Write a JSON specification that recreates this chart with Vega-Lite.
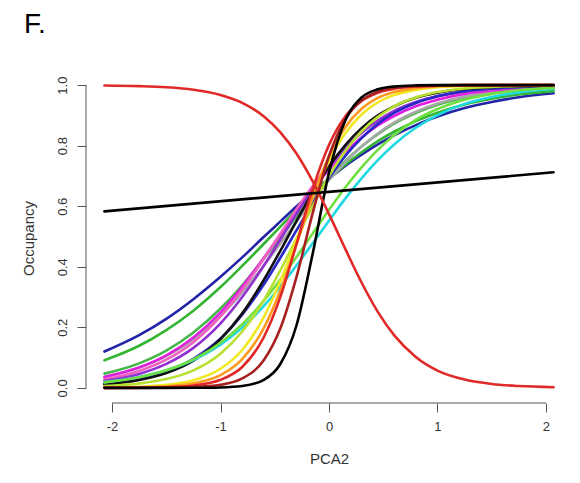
{
  "$schema": "https://vega.github.io/schema/vega-lite/v6.json",
  "width": 486,
  "height": 330,
  "autosize": {"type": "none"},
  "padding": {"left": 86, "top": 73, "right": 8, "bottom": 80},
  "background": "white",
  "config": {"view": {"stroke": null}, "font": "Liberation Sans"},
  "title": {"text": "F.", "anchor": "start", "frame": "group", "dx": -62, "offset": 34, "fontSize": 28, "fontWeight": "normal", "color": "#000000", "font": "Liberation Sans"},
  "data": {"values": [
    {"s":"s01","x":-2.07,"y":0.120},{"s":"s01","x":-1.75,"y":0.174},{"s":"s01","x":-1.5,"y":0.228},{"s":"s01","x":-1.25,"y":0.293},{"s":"s01","x":-1,"y":0.367},{"s":"s01","x":-0.8,"y":0.431},{"s":"s01","x":-0.6,"y":0.499},{"s":"s01","x":-0.45,"y":0.549},{"s":"s01","x":-0.3,"y":0.599},{"s":"s01","x":-0.15,"y":0.646},{"s":"s01","x":0,"y":0.691},{"s":"s01","x":0.15,"y":0.733},{"s":"s01","x":0.3,"y":0.770},{"s":"s01","x":0.45,"y":0.804},{"s":"s01","x":0.6,"y":0.834},{"s":"s01","x":0.8,"y":0.868},{"s":"s01","x":1,"y":0.896},{"s":"s01","x":1.25,"y":0.924},{"s":"s01","x":1.5,"y":0.944},{"s":"s01","x":1.75,"y":0.960},{"s":"s01","x":2.07,"y":0.973},
    {"s":"s02","x":-2.07,"y":0.091},{"s":"s02","x":-1.75,"y":0.139},{"s":"s02","x":-1.5,"y":0.191},{"s":"s02","x":-1.25,"y":0.255},{"s":"s02","x":-1,"y":0.333},{"s":"s02","x":-0.8,"y":0.403},{"s":"s02","x":-0.6,"y":0.476},{"s":"s02","x":-0.45,"y":0.532},{"s":"s02","x":-0.3,"y":0.588},{"s":"s02","x":-0.15,"y":0.641},{"s":"s02","x":0,"y":0.691},{"s":"s02","x":0.15,"y":0.737},{"s":"s02","x":0.3,"y":0.778},{"s":"s02","x":0.45,"y":0.815},{"s":"s02","x":0.6,"y":0.846},{"s":"s02","x":0.8,"y":0.881},{"s":"s02","x":1,"y":0.909},{"s":"s02","x":1.25,"y":0.936},{"s":"s02","x":1.5,"y":0.955},{"s":"s02","x":1.75,"y":0.969},{"s":"s02","x":2.07,"y":0.980},
    {"s":"s03","x":-2.07,"y":0.047},{"s":"s03","x":-1.75,"y":0.081},{"s":"s03","x":-1.5,"y":0.123},{"s":"s03","x":-1.25,"y":0.183},{"s":"s03","x":-1,"y":0.262},{"s":"s03","x":-0.8,"y":0.339},{"s":"s03","x":-0.6,"y":0.427},{"s":"s03","x":-0.45,"y":0.496},{"s":"s03","x":-0.3,"y":0.565},{"s":"s03","x":-0.15,"y":0.631},{"s":"s03","x":0,"y":0.693},{"s":"s03","x":0.15,"y":0.749},{"s":"s03","x":0.3,"y":0.797},{"s":"s03","x":0.45,"y":0.838},{"s":"s03","x":0.6,"y":0.873},{"s":"s03","x":0.8,"y":0.908},{"s":"s03","x":1,"y":0.935},{"s":"s03","x":1.25,"y":0.958},{"s":"s03","x":1.5,"y":0.973},{"s":"s03","x":1.75,"y":0.983},{"s":"s03","x":2.07,"y":0.990},
    {"s":"s04","x":-2.07,"y":0.037},{"s":"s04","x":-1.75,"y":0.067},{"s":"s04","x":-1.5,"y":0.105},{"s":"s04","x":-1.25,"y":0.160},{"s":"s04","x":-1,"y":0.237},{"s":"s04","x":-0.8,"y":0.315},{"s":"s04","x":-0.6,"y":0.404},{"s":"s04","x":-0.45,"y":0.476},{"s":"s04","x":-0.3,"y":0.549},{"s":"s04","x":-0.15,"y":0.620},{"s":"s04","x":0,"y":0.686},{"s":"s04","x":0.15,"y":0.745},{"s":"s04","x":0.3,"y":0.797},{"s":"s04","x":0.45,"y":0.840},{"s":"s04","x":0.6,"y":0.876},{"s":"s04","x":0.8,"y":0.912},{"s":"s04","x":1,"y":0.939},{"s":"s04","x":1.25,"y":0.962},{"s":"s04","x":1.5,"y":0.976},{"s":"s04","x":1.75,"y":0.985},{"s":"s04","x":2.07,"y":0.992},
    {"s":"s05","x":-2.07,"y":0.036},{"s":"s05","x":-1.75,"y":0.067},{"s":"s05","x":-1.5,"y":0.107},{"s":"s05","x":-1.25,"y":0.166},{"s":"s05","x":-1,"y":0.249},{"s":"s05","x":-0.8,"y":0.334},{"s":"s05","x":-0.6,"y":0.430},{"s":"s05","x":-0.45,"y":0.506},{"s":"s05","x":-0.3,"y":0.583},{"s":"s05","x":-0.15,"y":0.655},{"s":"s05","x":0,"y":0.721},{"s":"s05","x":0.15,"y":0.778},{"s":"s05","x":0.3,"y":0.827},{"s":"s05","x":0.45,"y":0.867},{"s":"s05","x":0.6,"y":0.898},{"s":"s05","x":0.8,"y":0.930},{"s":"s05","x":1,"y":0.952},{"s":"s05","x":1.25,"y":0.971},{"s":"s05","x":1.5,"y":0.982},{"s":"s05","x":1.75,"y":0.989},{"s":"s05","x":2.07,"y":0.994},
    {"s":"s06","x":-2.07,"y":0.028},{"s":"s06","x":-1.75,"y":0.056},{"s":"s06","x":-1.5,"y":0.093},{"s":"s06","x":-1.25,"y":0.151},{"s":"s06","x":-1,"y":0.236},{"s":"s06","x":-0.8,"y":0.324},{"s":"s06","x":-0.6,"y":0.427},{"s":"s06","x":-0.45,"y":0.508},{"s":"s06","x":-0.3,"y":0.590},{"s":"s06","x":-0.15,"y":0.667},{"s":"s06","x":0,"y":0.736},{"s":"s06","x":0.15,"y":0.795},{"s":"s06","x":0.3,"y":0.843},{"s":"s06","x":0.45,"y":0.882},{"s":"s06","x":0.6,"y":0.912},{"s":"s06","x":0.8,"y":0.942},{"s":"s06","x":1,"y":0.962},{"s":"s06","x":1.25,"y":0.978},{"s":"s06","x":1.5,"y":0.987},{"s":"s06","x":1.75,"y":0.992},{"s":"s06","x":2.07,"y":0.996},
    {"s":"s07","x":-2.07,"y":0.0225},{"s":"s07","x":-1.75,"y":0.046},{"s":"s07","x":-1.5,"y":0.079},{"s":"s07","x":-1.25,"y":0.132},{"s":"s07","x":-1,"y":0.213},{"s":"s07","x":-0.8,"y":0.300},{"s":"s07","x":-0.6,"y":0.404},{"s":"s07","x":-0.45,"y":0.489},{"s":"s07","x":-0.3,"y":0.575},{"s":"s07","x":-0.15,"y":0.656},{"s":"s07","x":0,"y":0.729},{"s":"s07","x":0.15,"y":0.792},{"s":"s07","x":0.3,"y":0.843},{"s":"s07","x":0.45,"y":0.883},{"s":"s07","x":0.6,"y":0.915},{"s":"s07","x":0.8,"y":0.944},{"s":"s07","x":1,"y":0.964},{"s":"s07","x":1.25,"y":0.979},{"s":"s07","x":1.5,"y":0.988},{"s":"s07","x":1.75,"y":0.993},{"s":"s07","x":2.07,"y":0.997},
    {"s":"s08","x":-2.07,"y":0.014},{"s":"s08","x":-1.75,"y":0.030},{"s":"s08","x":-1.5,"y":0.054},{"s":"s08","x":-1.25,"y":0.096},{"s":"s08","x":-1,"y":0.163},{"s":"s08","x":-0.8,"y":0.242},{"s":"s08","x":-0.6,"y":0.342},{"s":"s08","x":-0.45,"y":0.429},{"s":"s08","x":-0.3,"y":0.520},{"s":"s08","x":-0.15,"y":0.610},{"s":"s08","x":0,"y":0.693},{"s":"s08","x":0.15,"y":0.766},{"s":"s08","x":0.3,"y":0.825},{"s":"s08","x":0.45,"y":0.872},{"s":"s08","x":0.6,"y":0.908},{"s":"s08","x":0.8,"y":0.941},{"s":"s08","x":1,"y":0.963},{"s":"s08","x":1.25,"y":0.980},{"s":"s08","x":1.5,"y":0.989},{"s":"s08","x":1.75,"y":0.994},{"s":"s08","x":2.07,"y":0.997},
    {"s":"s09","x":-2.07,"y":0.011},{"s":"s09","x":-1.75,"y":0.026},{"s":"s09","x":-1.5,"y":0.049},{"s":"s09","x":-1.25,"y":0.090},{"s":"s09","x":-1,"y":0.161},{"s":"s09","x":-0.8,"y":0.246},{"s":"s09","x":-0.6,"y":0.357},{"s":"s09","x":-0.45,"y":0.452},{"s":"s09","x":-0.3,"y":0.551},{"s":"s09","x":-0.15,"y":0.646},{"s":"s09","x":0,"y":0.731},{"s":"s09","x":0.15,"y":0.802},{"s":"s09","x":0.3,"y":0.858},{"s":"s09","x":0.45,"y":0.900},{"s":"s09","x":0.6,"y":0.930},{"s":"s09","x":0.8,"y":0.958},{"s":"s09","x":1,"y":0.975},{"s":"s09","x":1.25,"y":0.987},{"s":"s09","x":1.5,"y":0.993},{"s":"s09","x":1.75,"y":0.996},{"s":"s09","x":2.07,"y":0.998},
    {"s":"s10","x":-2.07,"y":0.019},{"s":"s10","x":-1.75,"y":0.036},{"s":"s10","x":-1.5,"y":0.058},{"s":"s10","x":-1.25,"y":0.092},{"s":"s10","x":-1,"y":0.143},{"s":"s10","x":-0.8,"y":0.199},{"s":"s10","x":-0.6,"y":0.271},{"s":"s10","x":-0.45,"y":0.334},{"s":"s10","x":-0.3,"y":0.404},{"s":"s10","x":-0.15,"y":0.478},{"s":"s10","x":0,"y":0.552},{"s":"s10","x":0.15,"y":0.625},{"s":"s10","x":0.3,"y":0.692},{"s":"s10","x":0.45,"y":0.752},{"s":"s10","x":0.6,"y":0.804},{"s":"s10","x":0.8,"y":0.859},{"s":"s10","x":1,"y":0.901},{"s":"s10","x":1.25,"y":0.938},{"s":"s10","x":1.5,"y":0.961},{"s":"s10","x":1.75,"y":0.976},{"s":"s10","x":2.07,"y":0.987},
    {"s":"s11","x":-2.07,"y":0.018},{"s":"s11","x":-1.75,"y":0.035},{"s":"s11","x":-1.5,"y":0.058},{"s":"s11","x":-1.25,"y":0.094},{"s":"s11","x":-1,"y":0.149},{"s":"s11","x":-0.8,"y":0.210},{"s":"s11","x":-0.6,"y":0.288},{"s":"s11","x":-0.45,"y":0.357},{"s":"s11","x":-0.3,"y":0.432},{"s":"s11","x":-0.15,"y":0.510},{"s":"s11","x":0,"y":0.588},{"s":"s11","x":0.15,"y":0.662},{"s":"s11","x":0.3,"y":0.728},{"s":"s11","x":0.45,"y":0.786},{"s":"s11","x":0.6,"y":0.834},{"s":"s11","x":0.8,"y":0.885},{"s":"s11","x":1,"y":0.921},{"s":"s11","x":1.25,"y":0.952},{"s":"s11","x":1.5,"y":0.971},{"s":"s11","x":1.75,"y":0.983},{"s":"s11","x":2.07,"y":0.991},
    {"s":"s12","x":-2.07,"y":0.0057},{"s":"s12","x":-1.75,"y":0.0143},{"s":"s12","x":-1.5,"y":0.029},{"s":"s12","x":-1.25,"y":0.058},{"s":"s12","x":-1,"y":0.113},{"s":"s12","x":-0.8,"y":0.186},{"s":"s12","x":-0.6,"y":0.290},{"s":"s12","x":-0.45,"y":0.387},{"s":"s12","x":-0.3,"y":0.493},{"s":"s12","x":-0.15,"y":0.601},{"s":"s12","x":0,"y":0.699},{"s":"s12","x":0.15,"y":0.782},{"s":"s12","x":0.3,"y":0.847},{"s":"s12","x":0.45,"y":0.895},{"s":"s12","x":0.6,"y":0.930},{"s":"s12","x":0.8,"y":0.959},{"s":"s12","x":1,"y":0.977},{"s":"s12","x":1.25,"y":0.989},{"s":"s12","x":1.5,"y":0.994},{"s":"s12","x":1.75,"y":0.997},{"s":"s12","x":2.07,"y":0.999},
    {"s":"s13","x":-2.07,"y":0.0011},{"s":"s13","x":-1.75,"y":0.0039},{"s":"s13","x":-1.5,"y":0.0099},{"s":"s13","x":-1.25,"y":0.025},{"s":"s13","x":-1,"y":0.063},{"s":"s13","x":-0.8,"y":0.125},{"s":"s13","x":-0.6,"y":0.234},{"s":"s13","x":-0.45,"y":0.351},{"s":"s13","x":-0.3,"y":0.489},{"s":"s13","x":-0.15,"y":0.629},{"s":"s13","x":0,"y":0.750},{"s":"s13","x":0.15,"y":0.841},{"s":"s13","x":0.3,"y":0.903},{"s":"s13","x":0.45,"y":0.943},{"s":"s13","x":0.6,"y":0.967},{"s":"s13","x":0.8,"y":0.984},{"s":"s13","x":1,"y":0.993},{"s":"s13","x":1.25,"y":0.997},{"s":"s13","x":1.5,"y":0.999},{"s":"s13","x":1.75,"y":1.0},{"s":"s13","x":2.07,"y":1.0},
    {"s":"s14","x":-2.07,"y":0.0004},{"s":"s14","x":-1.75,"y":0.0018},{"s":"s14","x":-1.5,"y":0.0051},{"s":"s14","x":-1.25,"y":0.0149},{"s":"s14","x":-1,"y":0.042},{"s":"s14","x":-0.8,"y":0.095},{"s":"s14","x":-0.6,"y":0.198},{"s":"s14","x":-0.45,"y":0.320},{"s":"s14","x":-0.3,"y":0.473},{"s":"s14","x":-0.15,"y":0.631},{"s":"s14","x":0,"y":0.765},{"s":"s14","x":0.15,"y":0.861},{"s":"s14","x":0.3,"y":0.922},{"s":"s14","x":0.45,"y":0.958},{"s":"s14","x":0.6,"y":0.977},{"s":"s14","x":0.8,"y":0.990},{"s":"s14","x":1,"y":0.996},{"s":"s14","x":1.25,"y":0.999},{"s":"s14","x":1.5,"y":1.0},{"s":"s14","x":1.75,"y":1.0},{"s":"s14","x":2.07,"y":1.0},
    {"s":"s15","x":-2.07,"y":0.0001},{"s":"s15","x":-1.75,"y":0.0006},{"s":"s15","x":-1.5,"y":0.0022},{"s":"s15","x":-1.25,"y":0.0078},{"s":"s15","x":-1,"y":0.0266},{"s":"s15","x":-0.8,"y":0.069},{"s":"s15","x":-0.6,"y":0.168},{"s":"s15","x":-0.45,"y":0.299},{"s":"s15","x":-0.3,"y":0.475},{"s":"s15","x":-0.15,"y":0.657},{"s":"s15","x":0,"y":0.802},{"s":"s15","x":0.15,"y":0.896},{"s":"s15","x":0.3,"y":0.948},{"s":"s15","x":0.45,"y":0.975},{"s":"s15","x":0.6,"y":0.988},{"s":"s15","x":0.8,"y":0.9955},{"s":"s15","x":1,"y":0.998},{"s":"s15","x":1.25,"y":1.0},{"s":"s15","x":1.5,"y":1.0},{"s":"s15","x":1.75,"y":1.0},{"s":"s15","x":2.07,"y":1.0},
    {"s":"s16","x":-2.07,"y":0.0},{"s":"s16","x":-1.75,"y":0.0001},{"s":"s16","x":-1.5,"y":0.0005},{"s":"s16","x":-1.25,"y":0.0023},{"s":"s16","x":-1,"y":0.0099},{"s":"s16","x":-0.8,"y":0.031},{"s":"s16","x":-0.6,"y":0.092},{"s":"s16","x":-0.45,"y":0.195},{"s":"s16","x":-0.3,"y":0.366},{"s":"s16","x":-0.15,"y":0.578},{"s":"s16","x":0,"y":0.766},{"s":"s16","x":0.15,"y":0.887},{"s":"s16","x":0.3,"y":0.949},{"s":"s16","x":0.45,"y":0.978},{"s":"s16","x":0.6,"y":0.991},{"s":"s16","x":0.8,"y":0.997},{"s":"s16","x":1,"y":0.999},{"s":"s16","x":1.25,"y":1.0},{"s":"s16","x":1.5,"y":1.0},{"s":"s16","x":1.75,"y":1.0},{"s":"s16","x":2.07,"y":1.0},
    {"s":"s17","x":-2.07,"y":0.0},{"s":"s17","x":-1.75,"y":0.0},{"s":"s17","x":-1.5,"y":0.0},{"s":"s17","x":-1.25,"y":0.0002},{"s":"s17","x":-1,"y":0.0014},{"s":"s17","x":-0.8,"y":0.006},{"s":"s17","x":-0.6,"y":0.0266},{"s":"s17","x":-0.45,"y":0.078},{"s":"s17","x":-0.3,"y":0.206},{"s":"s17","x":-0.15,"y":0.444},{"s":"s17","x":0,"y":0.711},{"s":"s17","x":0.15,"y":0.883},{"s":"s17","x":0.3,"y":0.959},{"s":"s17","x":0.45,"y":0.986},{"s":"s17","x":0.6,"y":0.9955},{"s":"s17","x":0.8,"y":0.999},{"s":"s17","x":1,"y":1.0},{"s":"s17","x":1.25,"y":1.0},{"s":"s17","x":1.5,"y":1.0},{"s":"s17","x":1.75,"y":1.0},{"s":"s17","x":2.07,"y":1.0},
    {"s":"s18","x":-2.07,"y":0.9988},{"s":"s18","x":-1.75,"y":0.9967},{"s":"s18","x":-1.5,"y":0.9930},{"s":"s18","x":-1.25,"y":0.9849},{"s":"s18","x":-1,"y":0.9677},{"s":"s18","x":-0.8,"y":0.9416},{"s":"s18","x":-0.6,"y":0.8966},{"s":"s18","x":-0.45,"y":0.845},{"s":"s18","x":-0.3,"y":0.774},{"s":"s18","x":-0.15,"y":0.682},{"s":"s18","x":0,"y":0.574},{"s":"s18","x":0.15,"y":0.459},{"s":"s18","x":0.3,"y":0.348},{"s":"s18","x":0.45,"y":0.251},{"s":"s18","x":0.6,"y":0.174},{"s":"s18","x":0.8,"y":0.102},{"s":"s18","x":1,"y":0.057},{"s":"s18","x":1.25,"y":0.0273},{"s":"s18","x":1.5,"y":0.0127},{"s":"s18","x":1.75,"y":0.0059},{"s":"s18","x":2.07,"y":0.0022},
    {"s":"s19","x":-2.07,"y":0.583},{"s":"s19","x":2.07,"y":0.712}
  ]},
  "layer": [
    {
      "mark": {"type": "line", "interpolate": "monotone", "strokeWidth": 2.6, "strokeCap": "round", "strokeJoin": "round"},
      "encoding": {
        "x": {"field": "x", "type": "quantitative",
          "scale": {"domain": [-2.24, 2.24], "nice": false, "zero": false},
          "axis": {"values": [-2, -1, 0, 1, 2], "labelExpr": "'' + datum.value", "domain": false, "grid": false, "ticks": true, "tickSize": 9, "tickColor": "#555555", "tickWidth": 1, "labelFontSize": 13, "labelColor": "#333333", "labelPadding": 8, "labelFlush": false, "title": "PCA2", "titleFontSize": 15, "titleFontWeight": "normal", "titleColor": "#333333", "titlePadding": 18}},
        "y": {"field": "y", "type": "quantitative",
          "scale": {"domain": [-0.05, 1.04], "nice": false, "zero": false},
          "axis": {"values": [0, 0.2, 0.4, 0.6, 0.8, 1.0], "format": ".1f", "domain": false, "grid": false, "ticks": true, "tickSize": 9, "tickColor": "#555555", "tickWidth": 1, "labelAngle": -90, "labelAlign": "center", "labelBaseline": "bottom", "labelFontSize": 13, "labelColor": "#333333", "labelPadding": 8, "labelFlush": false, "title": "Occupancy", "titleFontSize": 15, "titleFontWeight": "normal", "titleColor": "#333333", "titlePadding": 20}},
        "color": {"field": "s", "type": "nominal", "legend": null,
          "scale": {
            "domain": ["s01","s02","s03","s04","s05","s06","s07","s08","s09","s10","s11","s12","s13","s14","s15","s16","s17","s18","s19"],
            "range": ["#2323a8","#33b533","#45b84a","#a8a8a8","#e020e0","#f060c0","#9030d0","#2828c8","#111111","#20d8e0","#70e040","#b8e030","#f0e820","#ff9a20","#e02828","#a82020","#000000","#e02a2a","#000000"]}}
      }
    },
    {
      "data": {"values": [{}]},
      "mark": {"type": "rule", "color": "#555555", "strokeWidth": 1},
      "encoding": {
        "x": {"datum": -2, "type": "quantitative"},
        "x2": {"datum": 2},
        "y": {"datum": -0.05, "type": "quantitative"}
      }
    },
    {
      "data": {"values": [{}]},
      "mark": {"type": "rule", "color": "#555555", "strokeWidth": 1},
      "encoding": {
        "x": {"datum": -2.24, "type": "quantitative"},
        "y": {"datum": 0, "type": "quantitative"},
        "y2": {"datum": 1}
      }
    }
  ]
}
